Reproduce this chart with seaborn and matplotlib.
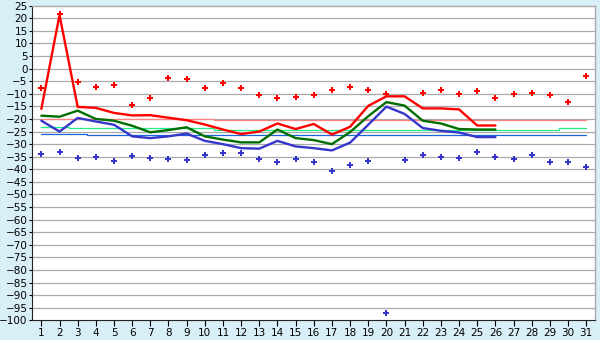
import numpy as np
import pandas as pd
import seaborn as sns
from matplotlib import pyplot as plt

nan = np.nan
days = list(range(1, 32))

# daily maxima / minima (markers)
max_points = [-7.8, 21.7, -5.4, -7.4, -6.6, -14.4, -11.6, -3.6, -4.0, -7.6,
              -5.6, -7.6, -10.4, -11.6, -11.2, -10.4, -8.4, -7.2, -8.4, -10.0,
              nan, -9.6, -8.4, -10.0, -8.8, -11.6, -10.0, -9.6, -10.4, -13.2, -2.8]
min_points = [-34.0, -33.1, -35.6, -35.2, -36.8, -34.8, -35.6, -36.0, -36.4, -34.4,
              -33.6, -33.6, -36.0, -37.0, -36.0, -37.0, -40.5, -38.2, -36.6, -97.2,
              -36.4, -34.4, -35.2, -35.6, -33.2, -35.2, -36.0, -34.4, -37.0, -37.0, -39.2]

# daily curves (end at day 26)
red_line = [-16.0, 21.3, -15.2, -15.6, -17.6, -18.6, -18.5, -19.5, -20.5, -22.2,
            -24.2, -26.0, -25.0, -21.8, -24.0, -22.0, -26.2, -23.1, -14.8, -11.0,
            -11.0, -15.8, -15.8, -16.2, -22.6, -22.6] + [nan] * 5
green_line = [-18.7, -19.1, -16.7, -20.0, -20.7, -22.7, -25.3, -24.4, -23.3, -26.9,
              -28.2, -29.3, -29.3, -24.2, -27.6, -28.4, -30.0, -25.2, -18.9, -13.3,
              -14.7, -20.7, -21.8, -24.0, -24.2, -24.2] + [nan] * 5
blue_line = [-20.7, -25.0, -19.6, -21.0, -22.3, -26.9, -27.6, -26.9, -25.8, -28.7,
             -30.0, -31.6, -31.8, -28.7, -30.9, -31.6, -32.5, -29.4, -22.3, -15.1,
             -18.0, -23.6, -24.7, -25.4, -27.2, -27.2] + [nan] * 5

# reference (normal) levels
norm_max = [-20.1] * 10 + [-20.6] * 16 + [-20.3] * 5
norm_mean = [-23.0] * 2 + [-23.6] * 8 + [-24.2] * 19 + [-23.6] * 2
norm_min = [-25.8] * 3 + [-26.2] * 7 + [-26.5] * 21

df = pd.DataFrame({'day': days, 'max_p': max_points, 'min_p': min_points,
                   'red': red_line, 'green': green_line, 'blue': blue_line,
                   'nmax': norm_max, 'nmean': norm_mean, 'nmin': norm_min})

bg = '#d9eff7'
sns.set_style('white')
plt.rcParams['font.family'] = ['DejaVu Sans']

fig = plt.figure(figsize=(6, 3.4), dpi=100, facecolor=bg)
ax = fig.add_axes([0.0538, 0.0579, 0.9383, 0.9253])
ax.set_facecolor('white')

for y in range(-95, 25, 5):
    ax.axhline(y, color='#aaaaaa', lw=0.9, zorder=0)

sns.lineplot(x='day', y='nmax', data=df, color='#ff8080', lw=0.9, drawstyle='steps-mid', ax=ax)
sns.lineplot(x='day', y='nmean', data=df, color='#22ee88', lw=0.9, drawstyle='steps-mid', ax=ax)
sns.lineplot(x='day', y='nmin', data=df, color='#1a66d6', lw=0.9, drawstyle='steps-mid', ax=ax)

sns.lineplot(x='day', y='red', data=df, color='#ff0000', lw=1.7, ax=ax)
sns.lineplot(x='day', y='green', data=df, color='#006e00', lw=1.7, ax=ax)
sns.lineplot(x='day', y='blue', data=df, color='#3636cc', lw=1.7, ax=ax)

sns.scatterplot(x='day', y='max_p', data=df, color='#ff0000', marker='P', s=17, linewidth=0, ax=ax, zorder=5)
sns.scatterplot(x='day', y='min_p', data=df, color='#3636cc', marker='P', s=17, linewidth=0, ax=ax, zorder=5)

ax.set_xlim(0.5, 31.5)
ax.set_ylim(-100, 25)
ax.set_xticks(days)
ax.set_yticks(range(-100, 30, 5))
ax.set_xlabel('')
ax.set_ylabel('')

for s in ['top', 'right']:
    ax.spines[s].set_color('#aaaaaa')
    ax.spines[s].set_linewidth(1.0)
for s in ['left', 'bottom']:
    ax.spines[s].set_color('#222222')
    ax.spines[s].set_linewidth(0.8)

ax.tick_params(axis='y', direction='out', length=2.5, width=0.8, pad=0.8, labelsize=7.5, colors='black', left=True)
ax.tick_params(axis='x', direction='out', length=4, width=0.8, pad=1.5, labelsize=7.5, colors='black', bottom=True)

fig.savefig('out.png', dpi=100, facecolor=bg)
